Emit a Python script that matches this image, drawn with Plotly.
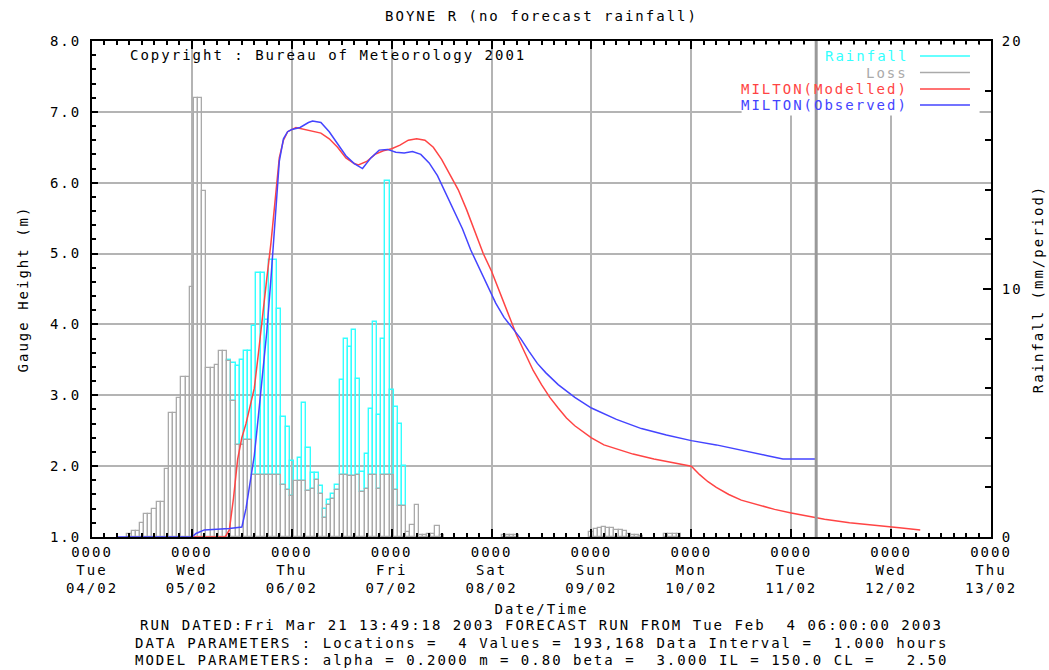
import pandas as pd
import plotly.graph_objects as go

# ---------------- data ----------------
TITLE = "BOYNE R (no forecast rainfall)"
COPYRIGHT = "Copyright : Bureau of Meteorology 2001"

day_ticks = ["2003-02-04", "2003-02-05", "2003-02-06", "2003-02-07", "2003-02-08",
             "2003-02-09", "2003-02-10", "2003-02-11", "2003-02-12", "2003-02-13"]
day_hhmm = ["0000"] * 10
day_names = ["Tue", "Wed", "Thu", "Fri", "Sat", "Sun", "Mon", "Tue", "Wed", "Thu"]
day_dates = ["04/02", "05/02", "06/02", "07/02", "08/02",
             "09/02", "10/02", "11/02", "12/02", "13/02"]

gauge_ticks = [1, 2, 3, 4, 5, 6, 7, 8]
rain_ticks = [0, 10, 20]

# hourly bars (mm/period) starting at this hour
bar_start = "2003-02-04 09:00"
loss_main = [0.11, 0.26, 0.26, 0.57, 0.91, 0.91, 1.11, 1.40, 1.40, 2.74,
             5.00, 5.00, 5.60, 6.46, 6.46, 10.1, 17.7, 17.7, 13.97, 6.83,
             6.83, 6.94, 7.49, 7.49, 7.09, 5.5, 3.7, 3.7, 3.9, 3.9,
             2.5, 2.5, 2.5, 2.5, 2.5, 2.5, 2.5, 2.1, 1.9, 1.66,
             2.27, 2.27, 2.27, 1.86, 1.95, 2.3, 1.74, 0.77, 1.31, 1.55,
             1.88, 2.52, 2.52, 2.45, 2.45, 2.5, 1.82, 1.95, 2.52, 2.52,
             1.95, 2.52, 2.52, 2.52, 1.9, 1.24, 1.24, 0.2, 0.47, 1.3,
             0.07, 0.07, 0.13, 0.13, 0.43, 0.07]
rain_main = [0.11, 0.26, 0.26, 0.57, 0.91, 0.91, 1.11, 1.40, 1.40, 2.74,
             5.00, 5.00, 5.60, 6.46, 6.46, 10.1, 17.7, 17.7, 13.97, 6.83,
             6.83, 6.94, 7.49, 7.49, 7.15, 7.0, 6.88, 7.15, 7.49, 7.49,
             8.5, 10.66, 10.66, 8.74, 11.17, 11.17, 9.2, 4.83, 4.43, 3.06,
             2.27, 3.17, 5.42, 3.6, 2.6, 2.6, 2.06, 1.11, 1.48, 1.74,
             2.08, 6.35, 7.97, 7.66, 8.34, 6.39, 2.63, 3.36, 5.17, 8.66,
             4.93, 7.97, 14.37, 5.92, 5.25, 4.57, 2.86, 0.2, 0.47, 1.3,
             0.07, 0.07, 0.13, 0.13, 0.43, 0.07]

# later small loss bars (rainfall equal to loss)
late_times = ["2003-02-08 03:00", "2003-02-08 04:00", "2003-02-08 05:00", "2003-02-08 06:00",
              "2003-02-09 00:00", "2003-02-09 01:00", "2003-02-09 02:00", "2003-02-09 03:00",
              "2003-02-09 04:00", "2003-02-09 05:00", "2003-02-09 06:00", "2003-02-09 07:00",
              "2003-02-09 08:00", "2003-02-09 09:00", "2003-02-09 10:00", "2003-02-09 11:00",
              "2003-02-09 12:00", "2003-02-09 18:00", "2003-02-09 19:00", "2003-02-09 20:00",
              "2003-02-09 21:00"]
late_mm = [0.1, 0.1, 0.1, 0.1,
           0.2, 0.31, 0.38, 0.4, 0.38, 0.35, 0.3, 0.27, 0.24, 0.13, 0.1, 0.1, 0.05,
           0.13, 0.13, 0.13, 0.13]

# gauge heights, hours after 04/02 00:00
base_time = "2003-02-04 00:00"
obs_hours = [6, 24, 25, 27, 33, 36, 37, 38, 39, 40, 41, 42, 43, 44, 45, 46, 47, 48, 50, 52,
             53, 55, 57, 59, 61, 63, 65, 67, 69, 71, 73, 75, 77, 79, 81, 83, 85, 87, 89, 91,
             93, 95, 97, 99, 101, 103, 105, 107, 109, 112, 116, 120, 126, 132, 138, 144, 150,
             156, 162, 166, 174]
obs_gauge = [1.0, 1.0, 1.05, 1.1, 1.12, 1.14, 1.4, 1.75, 2.15, 2.72, 3.3, 3.9, 4.65, 5.55, 6.3,
             6.62, 6.72, 6.75, 6.78, 6.85, 6.87, 6.85, 6.72, 6.55, 6.38, 6.27, 6.2, 6.35, 6.46,
             6.47, 6.43, 6.42, 6.44, 6.4, 6.28, 6.1, 5.85, 5.6, 5.35, 5.05, 4.8, 4.55, 4.3, 4.1,
             3.95, 3.8, 3.62, 3.45, 3.32, 3.15, 2.97, 2.82, 2.66, 2.53, 2.44, 2.36, 2.3, 2.23,
             2.15, 2.1, 2.1]
mod_hours = [24, 32, 33, 34, 35, 36, 37, 38, 39, 40, 41, 42, 43, 44, 45, 46, 47, 49, 51, 53,
             55, 57, 59, 61, 63, 64, 66, 68, 70, 72, 74, 76, 78, 80, 82, 84, 86, 88, 90, 92,
             94, 96, 98, 100, 102, 104, 106, 108, 110, 112, 114, 116, 118, 120, 123, 126, 130,
             135, 140, 144, 146, 148, 150, 153, 156, 160, 164, 168, 172, 176, 182, 188, 194, 199]
mod_gauge = [1.0, 1.0, 1.1, 1.55, 2.1, 2.4, 2.6, 2.85, 3.1, 3.6, 4.15, 4.65, 5.15, 5.75, 6.35,
             6.6, 6.72, 6.78, 6.75, 6.72, 6.7, 6.62, 6.5, 6.35, 6.27, 6.25, 6.3, 6.4, 6.45, 6.48,
             6.53, 6.6, 6.62, 6.6, 6.5, 6.33, 6.12, 5.9, 5.62, 5.32, 5.0, 4.75, 4.45, 4.15, 3.85,
             3.6, 3.35, 3.15, 2.97, 2.82, 2.68, 2.57, 2.48, 2.4, 2.3, 2.24, 2.17, 2.1, 2.05, 2.0,
             1.88, 1.78, 1.7, 1.6, 1.52, 1.45, 1.39, 1.34, 1.29, 1.25, 1.2, 1.16, 1.13, 1.1]

marker_time = "2003-02-11 06:00"

legend_names = ["Rainfall", "Loss", "MILTON(Modelled)", "MILTON(Observed)"]
footer_lines = [
    "RUN DATED:Fri Mar 21 13:49:18 2003 FORECAST RUN FROM Tue Feb  4 06:00:00 2003",
    "DATA PARAMETERS : Locations =  4 Values = 193,168 Data Interval =  1.000 hours",
    "MODEL PARAMETERS: alpha = 0.2000 m = 0.80 beta =  3.000 IL = 150.0 CL =   2.50",
]

# ---------------- styling ----------------
FONT = "DejaVu Sans Mono"
FS = 14
CYAN = "#33ffff"
GREY = "#aaaaaa"
RED = "#ff4444"
BLUE = "#4444ff"
GRID = "#b4b4b4"


def ls(s):
    """wide-spaced monospace text, like the original bitmap font"""
    s = s.replace("  ", "\u00a0\u00a0")
    return f'<span style="letter-spacing:2px">{s}</span>'


main_x = pd.date_range(bar_start, periods=len(loss_main), freq="h")
late_x = pd.to_datetime(late_times)
bar_x = list(main_x) + list(late_x)
rain_y = rain_main + late_mm
loss_y = loss_main + late_mm

# rainfall bars: the part not hidden behind the loss bars (rain above loss)
rain_vis = [(x, r, l) for x, r, l in zip(bar_x, rain_y, loss_y) if r > l]
rain_vis_x = [v[0] for v in rain_vis]
rain_vis_base = [v[2] for v in rain_vis]
rain_vis_h = [v[1] - v[2] for v in rain_vis]

t0 = pd.Timestamp(base_time)
obs_x = [t0 + pd.Timedelta(hours=h) for h in obs_hours]
mod_x = [t0 + pd.Timedelta(hours=h) for h in mod_hours]

HOUR_MS = 3600 * 1000

fig = go.Figure()
fig.add_trace(go.Bar(x=rain_vis_x, y=rain_vis_h, base=rain_vis_base, width=HOUR_MS, yaxis="y",
                     marker=dict(color="rgba(0,0,0,0)", line=dict(color=CYAN, width=1.4)),
                     name=legend_names[0], showlegend=False))
fig.add_trace(go.Bar(x=bar_x, y=loss_y, width=HOUR_MS, yaxis="y",
                     marker=dict(color="rgba(0,0,0,0)", line=dict(color=GREY, width=1.3)),
                     name=legend_names[1], showlegend=False))
fig.add_trace(go.Scatter(x=mod_x, y=mod_gauge, yaxis="y2", mode="lines",
                         line=dict(color=RED, width=1.5), name=legend_names[2], showlegend=False))
fig.add_trace(go.Scatter(x=obs_x, y=obs_gauge, yaxis="y2", mode="lines",
                         line=dict(color=BLUE, width=1.5), name=legend_names[3], showlegend=False))

xticktext = [ls(f"{a}<br>{b}<br>{c}") for a, b, c in zip(day_hhmm, day_names, day_dates)]

fig.update_layout(
    width=1049, height=670,
    margin=dict(l=92, r=58, t=41, b=133),
    paper_bgcolor="white", plot_bgcolor="white",
    font=dict(family=FONT, size=FS, color="black"),
    barmode="overlay", bargap=0,
    hovermode=False,
    showlegend=False,
    title=dict(text=ls(TITLE), x=0.5, xref="paper", xanchor="center",
               y=1 - 16 / 670, yref="container", yanchor="middle",
               font=dict(family=FONT, size=FS, color="black")),
    xaxis=dict(
        type="date", range=[day_ticks[0], day_ticks[-1]], automargin=False,
        tickvals=day_ticks, ticktext=xticktext,
        ticks="inside", ticklen=8, tickwidth=2, tickcolor="black",
        showline=True, linecolor="black", linewidth=2, mirror="ticks",
        showgrid=True, gridcolor=GRID, gridwidth=1.5, zeroline=False,
        tickfont=dict(family=FONT, size=FS),
        ticklabelstandoff=1,
        minor=dict(dtick=3 * HOUR_MS, ticks="inside", ticklen=4, tickcolor="black",
                   tickwidth=1.5, showgrid=False),
        title=dict(text=ls("Date/Time"), standoff=9, font=dict(family=FONT, size=FS)),
    ),
    yaxis=dict(
        range=[0, 20], side="right", automargin=False,
        tickvals=rain_ticks, ticktext=[ls(str(v)) for v in rain_ticks],
        ticks="inside", ticklen=8, tickwidth=1.5, tickcolor="black",
        showline=True, linecolor="black", linewidth=2,
        showgrid=False, zeroline=False,
        minor=dict(dtick=2, ticks="inside", ticklen=6, tickcolor="black", tickwidth=1.5),
        ticklabelstandoff=6,
        title=dict(text=ls("Rainfall (mm/period)"), standoff=12, font=dict(family=FONT, size=FS)),
    ),
    yaxis2=dict(
        range=[1, 8], overlaying="y", side="left", automargin=False,
        tickvals=gauge_ticks, ticktext=[ls(f"{v:.1f}") for v in gauge_ticks],
        ticks="inside", ticklen=6, tickwidth=1.5, tickcolor="black",
        showline=True, linecolor="black", linewidth=2,
        showgrid=True, gridcolor=GRID, gridwidth=1.5, zeroline=False,
        minor=dict(dtick=0.2, ticks="inside", ticklen=4, tickcolor="black", tickwidth=1.5,
                   showgrid=False),
        ticklabelstandoff=6,
        title=dict(text=ls("Gauge Height (m)"), standoff=18, font=dict(family=FONT, size=FS)),
    ),
)

# copyright note
fig.add_annotation(text=ls(COPYRIGHT), xref="paper", yref="paper", x=0.0426, y=0.972,
                   xanchor="left", yanchor="middle", showarrow=False, borderpad=0, borderwidth=0,
                   font=dict(family=FONT, size=FS, color="black"))

# legend box (text then line sample)
fig.add_shape(type="rect", xref="paper", yref="paper", x0=0.7226, x1=0.9873, y0=0.850, y1=0.993,
              fillcolor="white", line=dict(width=0), layer="above")
leg_colors = [CYAN, GREY, RED, BLUE]
leg_y = [0.9697, 0.9364, 0.9032, 0.8709]
for name, col, yy in zip(legend_names, leg_colors, leg_y):
    fig.add_annotation(text=ls(name), xref="paper", yref="paper", x=0.908, y=yy,
                       xanchor="right", yanchor="middle", showarrow=False,
                       borderpad=0, borderwidth=0,
                       font=dict(family=FONT, size=FS, color=col))
    fig.add_shape(type="line", xref="paper", yref="paper", x0=0.921, x1=0.9766, y0=yy, y1=yy,
                  line=dict(color=col, width=1.5), layer="above")

# end-of-observations marker
fig.add_shape(type="line", xref="x", yref="paper", x0=marker_time, x1=marker_time, y0=0, y1=1,
              line=dict(color="#999999", width=3), layer="above")

# footer text
footer_y = [-0.1774, -0.2137, -0.248]
for line, yy in zip(footer_lines, footer_y):
    fig.add_annotation(text=ls(line), xref="paper", yref="paper",
                       x=0.5, y=yy, xanchor="center", yanchor="middle", showarrow=False,
                       borderpad=0, borderwidth=0,
                       font=dict(family=FONT, size=FS, color="black"))

fig.write_html("out.html", include_plotlyjs=True, config={"displayModeBar": False},
               post_script="document.body.style.margin='0px';")
